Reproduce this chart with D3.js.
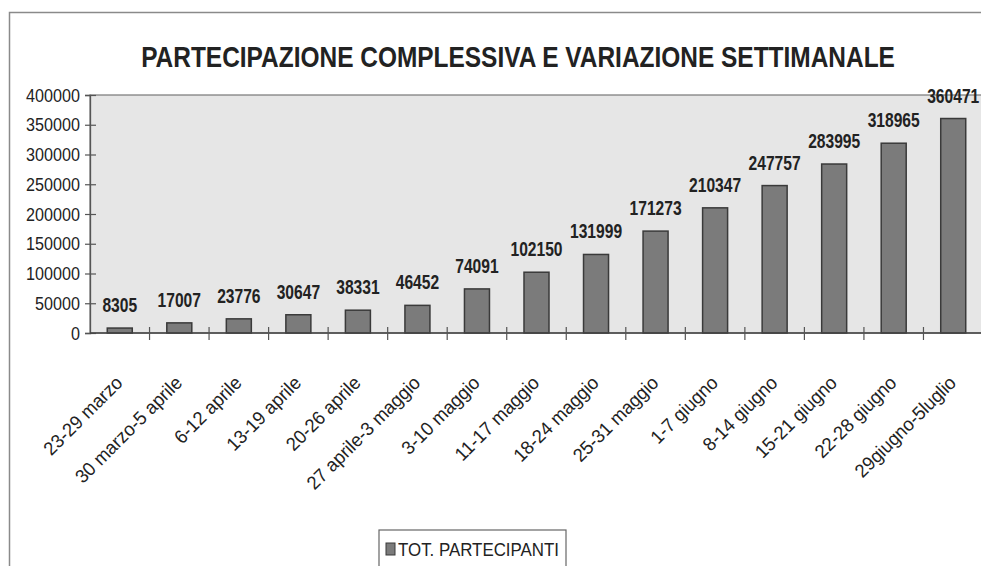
<!DOCTYPE html>
<html>
<head>
<meta charset="utf-8">
<script src="https://cdn.jsdelivr.net/npm/d3@7"></script>
<style>
  html, body { margin: 0; padding: 0; background: #fff; }
  svg { display: block; }
  text { font-family: "Liberation Sans", Arial, sans-serif; fill: #222; }
</style>
</head>
<body>
<svg id="chart" width="981" height="566"></svg>
<script>
// dati
const settimane = [
  "23-29 marzo", "30 marzo-5 aprile", "6-12 aprile", "13-19 aprile", "20-26 aprile",
  "27 aprile-3 maggio", "3-10 maggio", "11-17 maggio", "18-24 maggio", "25-31 maggio",
  "1-7 giugno", "8-14 giugno", "15-21 giugno", "22-28 giugno", "29giugno-5luglio"
];
const partecipanti = [8305, 17007, 23776, 30647, 38331, 46452, 74091, 102150, 131999, 171273,
  210347, 247757, 283995, 318965, 360471];
const yTicks = [0, 50000, 100000, 150000, 200000, 250000, 300000, 350000, 400000];
const titolo = "PARTECIPAZIONE COMPLESSIVA E VARIAZIONE SETTIMANALE";
const serieNome = "TOT. PARTECIPANTI";

const svg = d3.select("#chart");

// niente Arial Narrow: stringo il testo a mano
function stringi(sel, k) {
  sel.each(function () {
    const L = this.getComputedTextLength();
    d3.select(this).attr("textLength", L * k).attr("lengthAdjust", "spacingAndGlyphs");
  });
}

// cornice esterna
svg.append("path")
  .attr("d", "M9.5,566 L9.5,12.5 L981,12.5")
  .attr("fill", "none")
  .attr("stroke", "#8a8a8a")
  .attr("stroke-width", 1.5);

const plot = {left: 90, top: 95, right: 983, bottom: 333};

const x = d3.scaleBand()
  .domain(settimane)
  .range([plot.left, plot.right])
  .paddingInner(0.58)
  .paddingOuter(0.29);

const y = d3.scaleLinear()
  .domain([0, 400000])
  .range([plot.bottom, plot.top]);

// titolo (stretto in orizzontale)
svg.append("text")
  .attr("transform", "translate(518,67) scale(0.815,1)")
  .attr("text-anchor", "middle")
  .attr("font-size", 30)
  .attr("font-weight", "bold")
  .text(titolo);

// area del grafico
svg.append("rect")
  .attr("x", plot.left)
  .attr("y", plot.top)
  .attr("width", plot.right - plot.left)
  .attr("height", plot.bottom - plot.top)
  .attr("fill", "#e6e6e6")
  .attr("stroke", "#777")
  .attr("stroke-width", 1.2);

// barre
svg.append("g").selectAll("rect")
  .data(partecipanti)
  .join("rect")
  .attr("x", (d, i) => x(settimane[i]))
  .attr("y", d => y(d))
  .attr("width", x.bandwidth())
  .attr("height", d => y(0) - y(d))
  .attr("fill", "#7b7b7b")
  .attr("stroke", "#3a3a3a")
  .attr("stroke-width", 1.5);

// etichette valori
svg.append("g").selectAll("text")
  .data(partecipanti)
  .join("text")
  .attr("x", (d, i) => x(settimane[i]) + x.bandwidth() / 2)
  .attr("y", d => y(d) - 16)
  .attr("text-anchor", "middle")
  .attr("font-size", 20)
  .attr("font-weight", "bold")
  .text(d => d)
  .call(stringi, 0.78);

// asse y
const yAxis = d3.axisLeft(y)
  .tickValues(yTicks)
  .tickFormat(d3.format("d"))
  .tickSize(5)
  .tickPadding(5);
const gy = svg.append("g")
  .attr("transform", `translate(${plot.left},0)`)
  .call(yAxis);
gy.select(".domain").attr("stroke", "#555").attr("stroke-width", 1.3);
gy.selectAll(".tick line").attr("x2", 6).attr("x1", -5).attr("stroke", "#555").attr("stroke-width", 1.2);
gy.selectAll(".tick text")
  .attr("font-size", 19)
  .attr("font-family", null)
  .attr("fill", "#222")
  .call(stringi, 0.85);

// asse x
const slot = x.step();
const xTickPos = d3.range(1, settimane.length).map(i => plot.left + i * slot);
svg.append("line")
  .attr("x1", plot.left).attr("x2", plot.right)
  .attr("y1", plot.bottom).attr("y2", plot.bottom)
  .attr("stroke", "#444").attr("stroke-width", 1.5);
svg.append("g").selectAll("line")
  .data(xTickPos)
  .join("line")
  .attr("x1", d => d).attr("x2", d => d)
  .attr("y1", plot.bottom - 6).attr("y2", plot.bottom + 7)
  .attr("stroke", "#555").attr("stroke-width", 1.2);

// le etichette nell'originale sono tagliate in alto
svg.append("clipPath").attr("id", "taglio")
  .append("rect").attr("x", 0).attr("y", 376).attr("width", 981).attr("height", 150);

svg.append("g").attr("clip-path", "url(#taglio)")
  .selectAll("text")
  .data(settimane)
  .join("text")
  .attr("transform", d => `translate(${x(d) + x.bandwidth() / 2 + 4},384) rotate(-45)`)
  .attr("text-anchor", "end")
  .attr("font-size", 19)
  .text(d => d)
  .call(stringi, 0.96);

// legenda
const leg = svg.append("g").attr("transform", "translate(379,530)");
leg.append("rect")
  .attr("x", 0).attr("y", 0).attr("width", 187).attr("height", 40)
  .attr("fill", "#fff").attr("stroke", "#666").attr("stroke-width", 1.2);
leg.append("rect")
  .attr("x", 7).attr("y", 13).attr("width", 9).attr("height", 12)
  .attr("fill", "#7b7b7b").attr("stroke", "#3a3a3a").attr("stroke-width", 1);
leg.append("text")
  .attr("x", 19).attr("y", 26)
  .attr("font-size", 18)
  .attr("textLength", 161)
  .attr("lengthAdjust", "spacingAndGlyphs")
  .text(serieNome);
</script>
</body>
</html>
